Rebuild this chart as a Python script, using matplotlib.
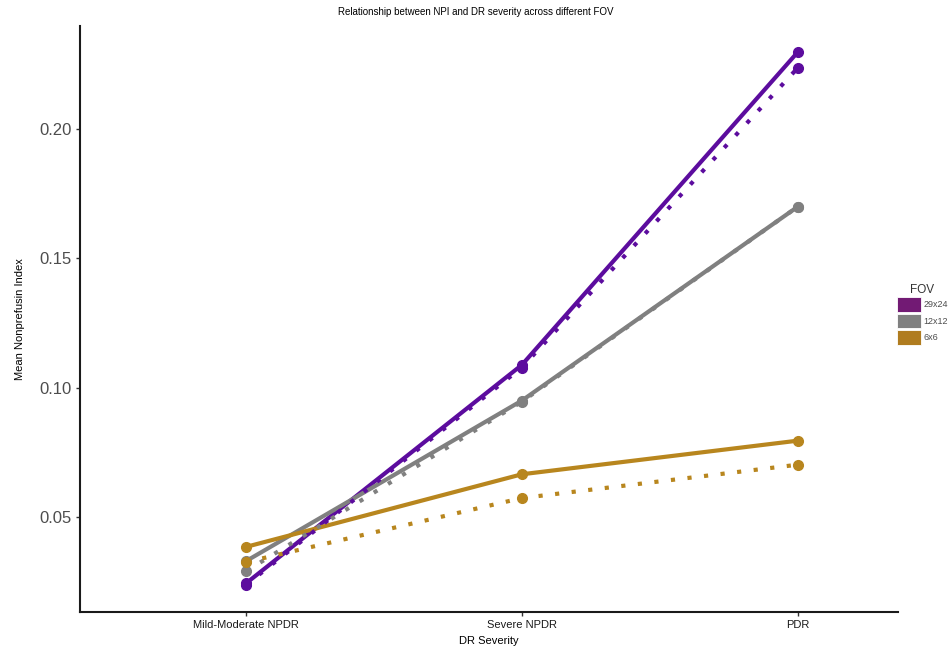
import matplotlib
matplotlib.use("Agg")
import matplotlib.pyplot as plt
from matplotlib.patches import Patch

plt.rcParams['font.family'] = ['Liberation Sans', 'DejaVu Sans']

categories = ["Mild-Moderate NPDR", "Severe NPDR", "PDR"]
fov_labels = ["29x24", "12x12", "6x6"]

# solid lines
npi_29x24 = [0.0243, 0.1088, 0.2298]
npi_12x12 = [0.0329, 0.0950, 0.1700]
npi_6x6 = [0.0384, 0.0665, 0.0795]
# dotted lines
npi_29x24_b = [0.0237, 0.1078, 0.2237]
npi_12x12_b = [0.0290, 0.0946, 0.1700]
npi_6x6_b = [0.0325, 0.0573, 0.0702]

line_colors = ["#5C0C9E", "#808080", "#B8861E"]
legend_colors = ["#721A74", "#808080", "#B07C1F"]

fig = plt.figure(figsize=(9.52, 6.52), dpi=100)
ax = fig.add_axes([0.084, 0.0613, 0.859, 0.899])

x = list(range(len(categories)))
solid = [npi_29x24, npi_12x12, npi_6x6]
dotted = [npi_29x24_b, npi_12x12_b, npi_6x6_b]

for vals, c in zip(solid, line_colors):
    ax.plot(x, vals, color=c, lw=3.0, marker='o', ms=7, solid_capstyle='butt')
for vals, c in zip(dotted, line_colors):
    ax.plot(x, vals, color=c, lw=3.0, ls=(0, (1, 3)), marker='o', ms=7,
            dash_capstyle='butt')

ax.set_xlim(-0.602, 2.363)
ax.set_ylim(0.0132, 0.240)
ax.set_xticks(x)
ax.set_xticklabels(categories, fontsize=8, color='#1a1a1a')
ax.set_yticks([0.05, 0.10, 0.15, 0.20])
ax.set_yticklabels(["0.05", "0.10", "0.15", "0.20"], fontsize=12, color='#4D4D4D')
ax.tick_params(axis='both', length=3, width=1, color='#333333', pad=3)

for s in ['top', 'right']:
    ax.spines[s].set_visible(False)
for s in ['left', 'bottom']:
    ax.spines[s].set_linewidth(1.5)
    ax.spines[s].set_color('#1a1a1a')

ax.set_xlabel("DR Severity", fontsize=8, labelpad=4)
ax.set_ylabel("Mean Nonprefusin Index", fontsize=8, labelpad=10)
fig.suptitle("Relationship between NPI and DR severity across different FOV",
             fontsize=7, y=0.99)

handles = [Patch(facecolor=c, edgecolor='white', lw=0.6) for c in legend_colors]
leg = fig.legend(handles, fov_labels, title="FOV", loc='upper left',
                 bbox_to_anchor=(0.937, 0.572), frameon=False, fontsize=6.5,
                 title_fontsize=8.5, handlelength=2.7, handleheight=2.1,
                 handletextpad=0.25, labelspacing=0.2, borderpad=0)
leg.get_title().set_color('#333333')
for t in leg.get_texts():
    t.set_color('#4D4D4D')

fig.savefig("out.png", dpi=100)
